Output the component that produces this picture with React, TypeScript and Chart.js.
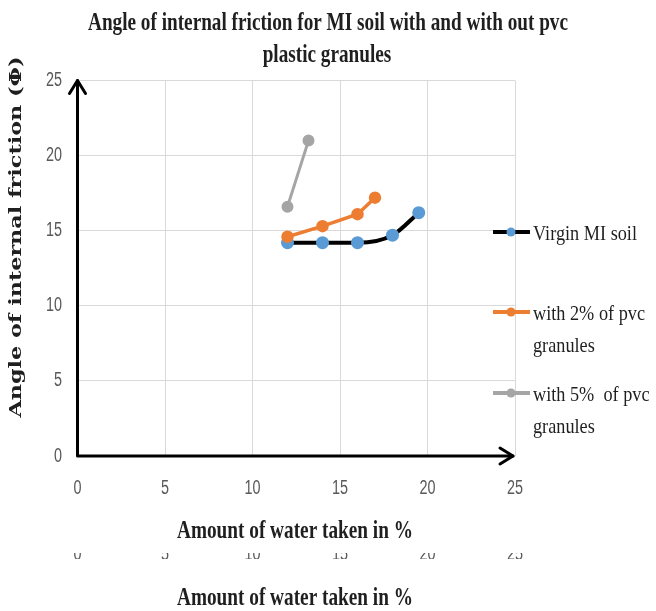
import React, { useEffect, useRef } from "react";
import { Chart, registerables } from "chart.js";

Chart.register(...registerables);

// ---- data ----
const xTicks = [0, 5, 10, 15, 20, 25];
const yTicks = [0, 5, 10, 15, 20, 25];

const virginX = [12, 14, 16, 18, 19.5];
const virginY = [14.2, 14.2, 14.2, 14.7, 16.2];

const pvc2X = [12, 14, 16, 17];
const pvc2Y = [14.6, 15.3, 16.1, 17.2];

const pvc5X = [12, 13.2];
const pvc5Y = [16.6, 21.0];

const legendLabels = [
  ["Virgin MI soil"],
  ["with 2% of pvc", "granules"],
  ["with 5%  of pvc", "granules"],
];

const titleLines = [
  "Angle of internal friction for MI soil with and with out pvc",
  "plastic granules",
];
const xTitle = "Amount of water taken in %";
const yTitle = "Angle of internal friction (\u03A6)";

// ---- styles ----
const GRID = "#d9d9d9";
const TICK_COLOR = "#595959";
const TEXT_COLOR = "#1f1f1f";
const BLUE = "#5b9bd5";
const ORANGE = "#ed7d31";
const GRAY = "#a5a5a5";

function toPts(xs: number[], ys: number[]) {
  return xs.map((x, i) => ({ x, y: ys[i] }));
}

function scaledText(
  ctx: CanvasRenderingContext2D,
  text: string,
  x: number,
  y: number,
  font: string,
  color: string,
  sx: number,
  align: CanvasTextAlign = "center",
  baseline: CanvasTextBaseline = "alphabetic",
  rot = 0
) {
  ctx.save();
  ctx.font = font;
  ctx.fillStyle = color;
  ctx.textAlign = align;
  ctx.textBaseline = baseline;
  ctx.translate(x, y);
  if (rot) ctx.rotate(rot);
  ctx.scale(sx, 1);
  ctx.fillText(text, 0, 0);
  ctx.restore();
}

function fitScale(ctx: CanvasRenderingContext2D, text: string, font: string, width: number) {
  ctx.save();
  ctx.font = font;
  const w = ctx.measureText(text).width;
  ctx.restore();
  return width / w;
}

const decorPlugin = {
  id: "decor",
  afterDraw(chart: any) {
    const ctx: CanvasRenderingContext2D = chart.ctx;
    const xs = chart.scales.x;
    const ys = chart.scales.y;
    const x0 = xs.getPixelForValue(0);
    const y0 = ys.getPixelForValue(0);
    const xEnd = xs.getPixelForValue(25) - 2;
    const yEnd = ys.getPixelForValue(25);

    // axes with arrows
    ctx.save();
    ctx.strokeStyle = "#000";
    ctx.lineWidth = 3;
    ctx.lineCap = "round";
    ctx.lineJoin = "round";
    ctx.beginPath();
    ctx.moveTo(x0, y0);
    ctx.lineTo(x0, yEnd);
    ctx.moveTo(x0, y0);
    ctx.lineTo(xEnd, y0);
    ctx.stroke();
    ctx.beginPath();
    ctx.moveTo(x0 - 8, yEnd + 13);
    ctx.lineTo(x0, yEnd);
    ctx.lineTo(x0 + 8, yEnd + 13);
    ctx.moveTo(xEnd - 13, y0 - 8);
    ctx.lineTo(xEnd, y0);
    ctx.lineTo(xEnd - 13, y0 + 8);
    ctx.stroke();
    ctx.restore();

    const tickFont = "20px 'Liberation Sans', Arial, sans-serif";
    // tick labels
    xTicks.forEach((v) => {
      scaledText(ctx, String(v), xs.getPixelForValue(v), 494, tickFont, TICK_COLOR, 0.72);
    });
    yTicks.forEach((v) => {
      scaledText(ctx, String(v), 62, ys.getPixelForValue(v), tickFont, TICK_COLOR, 0.72, "right", "middle");
    });

    // titles
    const titleFont = "bold 26px 'Liberation Serif', serif";
    const ts = fitScale(ctx, titleLines[0], titleFont, 480);
    scaledText(ctx, titleLines[0], 328, 30, titleFont, TEXT_COLOR, ts);
    scaledText(ctx, titleLines[1], 327, 62, titleFont, TEXT_COLOR, ts);

    const xs2 = fitScale(ctx, xTitle, titleFont, 236);
    scaledText(ctx, xTitle, 295, 538, titleFont, TEXT_COLOR, xs2);

    // duplicated (cropped) tick row and x title from reference
    ctx.save();
    ctx.beginPath();
    ctx.rect(0, 553, 656, 6);
    ctx.clip();
    xTicks.forEach((v) => {
      scaledText(ctx, String(v), xs.getPixelForValue(v), 560, tickFont, TICK_COLOR, 0.72);
    });
    ctx.restore();
    scaledText(ctx, xTitle, 295, 605, titleFont, TEXT_COLOR, xs2);

    const yFont = "bold 16px 'DejaVu Serif', serif";
    const ysScale = fitScale(ctx, yTitle, yFont, 361);
    scaledText(ctx, yTitle, 21, 237, yFont, TEXT_COLOR, ysScale, "center", "alphabetic", -Math.PI / 2);

    // legend
    const rows = [232, 312, 393];
    const legendFont = "22px 'Liberation Serif', serif";
    const ls = fitScale(ctx, legendLabels[0][0], legendFont, 104);
    chart.data.datasets.forEach((ds: any, i: number) => {
      const y = rows[i];
      ctx.save();
      ctx.strokeStyle = ds.borderColor;
      ctx.lineWidth = 4;
      ctx.beginPath();
      ctx.moveTo(493, y);
      ctx.lineTo(530, y);
      ctx.stroke();
      ctx.fillStyle = ds.pointBackgroundColor;
      ctx.beginPath();
      ctx.arc(511, y, 4.5, 0, Math.PI * 2);
      ctx.fill();
      ctx.restore();
      legendLabels[i].forEach((line, j) => {
        scaledText(ctx, line, 533, y + 8 + j * 32, legendFont, TEXT_COLOR, ls, "left");
      });
    });
  },
};

export default function App() {
  const ref = useRef<HTMLCanvasElement | null>(null);
  useEffect(() => {
    document.body.style.margin = "0";
    const canvas = ref.current;
    if (!canvas) return;
    const chart = new Chart(canvas, {
      type: "line",
      data: {
        datasets: [
          {
            label: legendLabels[0].join(" "),
            data: toPts(virginX, virginY),
            borderColor: "#000000",
            borderWidth: 4,
            pointBackgroundColor: BLUE,
            pointBorderColor: BLUE,
            pointRadius: 4.5,
            cubicInterpolationMode: "monotone",
            order: 3,
          },
          {
            label: legendLabels[1].join(" "),
            data: toPts(pvc2X, pvc2Y),
            borderColor: ORANGE,
            borderWidth: 3.5,
            pointBackgroundColor: ORANGE,
            pointBorderColor: ORANGE,
            pointRadius: 4.5,
            tension: 0,
            order: 2,
          },
          {
            label: legendLabels[2].join(" "),
            data: toPts(pvc5X, pvc5Y),
            borderColor: GRAY,
            borderWidth: 3,
            pointBackgroundColor: GRAY,
            pointBorderColor: GRAY,
            pointRadius: 4.5,
            tension: 0,
            order: 1,
          },
        ],
      },
      options: {
        animation: false,
        responsive: true,
        maintainAspectRatio: false,
        layout: { padding: { left: 77.5, top: 80.5, right: 141, bottom: 155 } },
        plugins: {
          legend: { display: false },
          title: { display: false },
          tooltip: { enabled: false },
        },
        scales: {
          x: {
            type: "linear",
            min: 0,
            max: 25,
            ticks: { display: false, stepSize: 5 },
            grid: { color: GRID, lineWidth: 1, drawTicks: false },
            border: { display: false },
          },
          y: {
            type: "linear",
            min: 0,
            max: 25,
            ticks: { display: false, stepSize: 5 },
            grid: { color: GRID, lineWidth: 1, drawTicks: false },
            border: { display: false },
          },
        },
      },
      plugins: [decorPlugin],
    });
    return () => chart.destroy();
  }, []);
  return (
    <div style={{ width: 656, height: 611, position: "relative", background: "#fff" }}>
      <canvas ref={ref} />
    </div>
  );
}
